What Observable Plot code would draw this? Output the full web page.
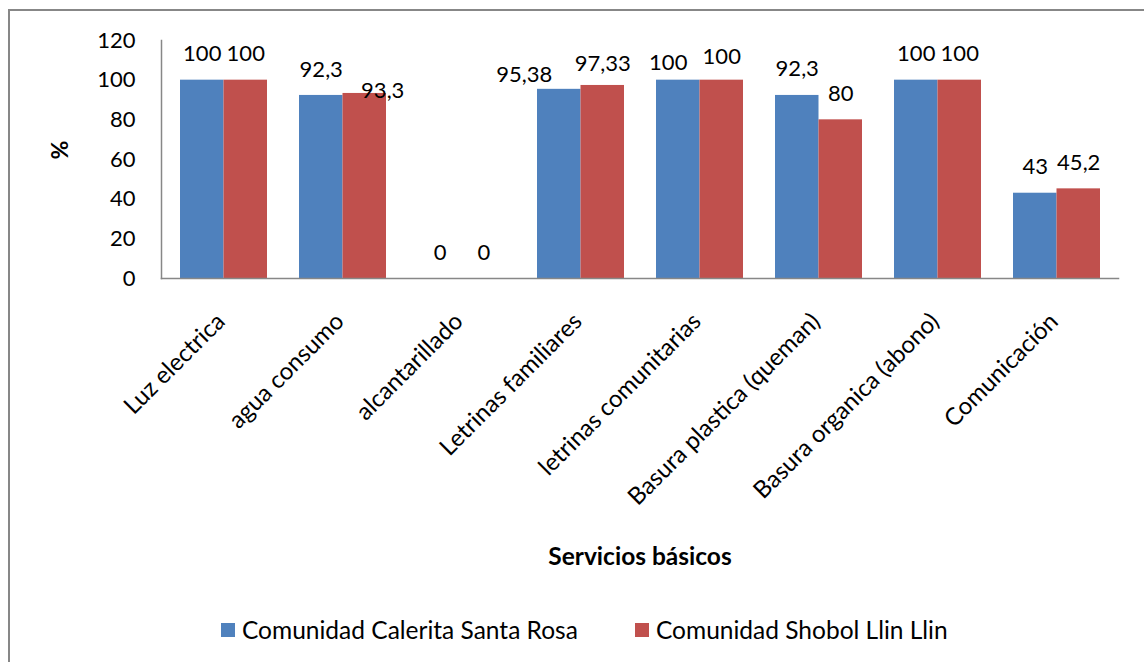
<!DOCTYPE html>
<html>
<head>
<meta charset="utf-8">
<script src="https://cdn.jsdelivr.net/npm/d3@7"></script>
<script src="https://cdn.jsdelivr.net/npm/@observablehq/plot@0.6"></script>
<style>
  html, body { margin: 0; padding: 0; background: #fff; }
  #wrap { position: relative; width: 1144px; height: 662px; overflow: hidden; font-family: Lato, "Open Sans", sans-serif; }
  #border { position: absolute; left: 8px; top: 9px; width: 1300px; height: 800px; border: 2px solid #878787; box-sizing: border-box; }
  #chart { position: absolute; left: 0; top: 0; }
  .legend-item { position: absolute; top: 615px; display: flex; align-items: center; font-size: 24.5px; color: #000; white-space: nowrap; }
  .legend-item .sw { width: 14px; height: 14px; margin-right: 7px; }
</style>
</head>
<body>
<div id="wrap">
  <div id="border"></div>
  <div id="chart"></div>
</div>
<script>
// ---- data ----
const categories = [
  "Luz electrica",
  "agua consumo",
  "alcantarillado",
  "Letrinas familiares",
  "letrinas comunitarias",
  "Basura plastica (queman)",
  "Basura organica (abono)",
  "Comunicación"
];
const seriesNames = ["Comunidad Calerita Santa Rosa", "Comunidad Shobol Llin Llin"];
const calerita = [100, 92.3, 0, 95.38, 100, 92.3, 100, 43];
const shobol   = [100, 93.3, 0, 97.33, 100, 80, 100, 45.2];
const yTicks = [0, 20, 40, 60, 80, 100, 120];
const yTitle = "%";
const xTitle = "Servicios básicos";

// ---- styles ----
const colors = ["#4F81BD", "#C0504D"];
// manual label nudges (style only): "seriesIndex|categoryIndex" -> [dx, dy]
const defaultNudge = [0, -26];
const labelNudge = {
  "1|1": [18, -3],
  "0|3": [-35, -14],
  "1|3": [0, -22],
  "0|4": [-10, -17],
  "1|4": [0, -23],
  "0|1": [0, -25]
};

const W = 1144, H = 600;
const mL = 161, mR = 26, mT = 40, mB = 322;
const padInner = 0.2727, padOuter = 0.1364;
// band width for half-bar insets, via the same band geometry Plot uses
const band = d3.scaleBand(categories, [mL, W - mR]).paddingInner(padInner).paddingOuter(padOuter);
const bw = band.bandwidth();

const rows = [];
categories.forEach((c, i) => {
  rows.push({category: c, ci: i, si: 0, series: seriesNames[0], value: calerita[i]});
  rows.push({category: c, ci: i, si: 1, series: seriesNames[1], value: shobol[i]});
});
const fmt = v => String(v).replace(".", ",");

const labelMarks = rows.map(r => {
  const n = labelNudge[r.si + "|" + r.ci] || defaultNudge;
  return Plot.text([r], {
    x: "category", y: "value", text: d => fmt(d.value),
    dx: (r.si === 0 ? -bw / 4 : bw / 4) + n[0], dy: n[1],
    fontSize: 22, fill: "#000"
  });
});

const plot = Plot.plot({
  width: W, height: H,
  marginLeft: mL, marginRight: mR, marginTop: mT, marginBottom: mB,
  style: {fontFamily: "Lato, 'Open Sans', sans-serif", fontSize: "22px", color: "#000", background: "transparent"},
  x: {domain: categories, paddingInner: padInner, paddingOuter: padOuter, label: null},
  y: {domain: [0, 120], label: null},
  marks: [
    Plot.barY(rows.filter(r => r.si === 0), {x: "category", y: "value", fill: colors[0], insetRight: bw / 2, insetLeft: 0}),
    Plot.barY(rows.filter(r => r.si === 1), {x: "category", y: "value", fill: colors[1], insetLeft: bw / 2, insetRight: 0}),
    Plot.frame({anchor: "bottom", stroke: "#878787", strokeWidth: 1.5}),
    Plot.frame({anchor: "left", stroke: "#878787", strokeWidth: 1.5}),
    Plot.axisY({ticks: yTicks, tickSize: 0, tickPadding: 26, tickFormat: d => String(d), label: null, fontSize: 22}),
    Plot.axisX({tickSize: 0, tickRotate: -45, tickPadding: 39, dx: -3, label: null, fontSize: 24}),
    Plot.text([yTitle], {frameAnchor: "left", dx: -101, rotate: -90, fontWeight: "bold", fontSize: 23}),
    Plot.text([xTitle], {frameAnchor: "bottom", dy: 286, fontWeight: "bold", fontSize: 24.5}),
    ...labelMarks
  ]
});
document.getElementById("chart").appendChild(plot);

// legend
const wrap = document.getElementById("wrap");
const legendLeft = [221, 635];
seriesNames.forEach((name, i) => {
  const item = document.createElement("div");
  item.className = "legend-item";
  item.style.left = legendLeft[i] + "px";
  const sw = document.createElement("span");
  sw.className = "sw";
  sw.style.background = colors[i];
  const tx = document.createElement("span");
  tx.textContent = name;
  item.appendChild(sw);
  item.appendChild(tx);
  wrap.appendChild(item);
});
</script>
</body>
</html>
